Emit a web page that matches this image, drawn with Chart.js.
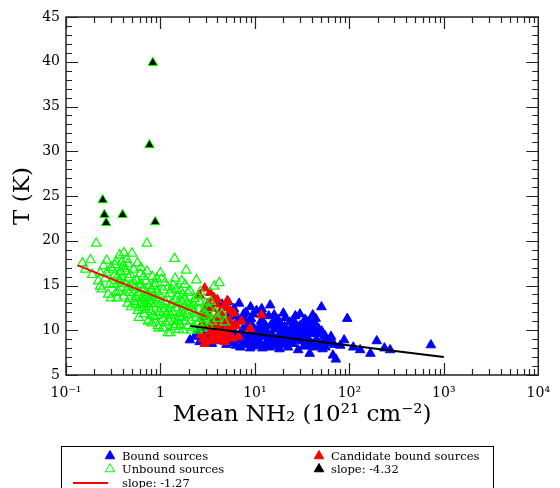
<!DOCTYPE html>
<html><head><meta charset="utf-8">
<script src="https://cdn.jsdelivr.net/npm/chart.js@4.4.0/dist/chart.umd.min.js"></script>
<style>html,body{margin:0;padding:0;background:#fff;}canvas{display:block;}</style>
</head><body>
<canvas id="c" width="560" height="488"></canvas>
<script>
// ---- data (x = mean NH2 in 1e21 cm^-2, y = T in K) ----
const unboundSources = [
 [0.149,17.5],[0.182,17.85],[0.16,16.8],[0.19,16.2],
 [0.209,19.7],[0.22,15.5],[0.23,16.4],[0.24,14.6],[0.25,17.2],[0.26,15.8],[0.27,16.4],[0.28,14.0],[0.29,15.1],[0.3,17.0],[0.3,13.6],
 [0.31,16.8],[0.32,15.2],[0.33,17.3],[0.34,17.7],[0.34,14.2],[0.35,13.6],[0.35,16.0],[0.36,15.5],[0.37,18.4],[0.38,16.5],[0.38,14.8],[0.39,15.8],[0.4,17.1],[0.41,18.65],[0.41,13.8],[0.42,15.2],[0.43,16.6],[0.44,14.5],[0.45,17.4],[0.45,13.0],[0.46,15.9],[0.47,14.2],[0.48,16.2],[0.49,12.6],[0.5,18.6],[0.5,15.0],[0.36,14.3],[0.33,16.2],[0.44,17.9],[0.47,13.5],
 [0.52,16.8],[0.53,13.2],[0.54,14.8],[0.55,13.75],[0.56,15.6],[0.57,17.5],[0.58,12.2],[0.59,11.4],[0.6,14.2],[0.61,16.3],[0.62,13.0],[0.63,15.1],[0.64,12.5],[0.65,14.6],[0.66,16.0],[0.67,11.8],[0.68,13.6],[0.7,15.5],[0.71,12.9],[0.72,19.7],[0.73,14.0],[0.74,11.0],[0.75,11.1],[0.76,15.0],[0.78,13.3],[0.79,12.1],[0.8,14.6],[0.81,10.8],[0.82,16.0],[0.84,12.6],[0.85,13.9],[0.87,11.5],[0.88,15.2],[0.9,12.9],[0.92,14.3],[0.94,10.5],[0.95,13.4],[0.96,10.2],[0.98,12.0],[1.0,16.4],[0.58,14.0],[0.63,13.5],[0.69,12.3],[0.77,13.8],[0.86,14.9],[0.93,11.6],
 [1.02,13.0],[1.05,11.3],[1.07,14.5],[1.1,12.4],[1.12,15.3],[1.15,10.8],[1.18,13.6],[1.2,9.7],[1.22,12.1],[1.25,14.1],[1.27,9.7],[1.3,11.6],[1.33,13.0],[1.36,15.0],[1.4,10.4],[1.41,18.0],[1.43,15.8],[1.45,12.5],[1.5,11.1],[1.52,13.8],[1.56,10.1],[1.6,12.0],[1.63,14.4],[1.67,11.4],[1.7,13.2],[1.74,10.0],[1.78,12.6],[1.82,15.1],[1.85,11.0],[1.87,16.7],[1.9,13.0],[1.95,10.5],[1.98,12.2],[1.08,12.0],[1.16,11.8],[1.28,12.8],[1.38,11.0],[1.48,14.6],[1.58,11.5],[1.72,14.0],[1.92,11.7],
 [2.05,14.4],[2.1,11.0],[2.15,12.7],[2.2,10.3],[2.3,13.5],[2.35,11.8],[2.4,15.6],[2.5,10.8],[2.55,12.3],[2.6,13.2],[2.7,11.3],[2.8,12.0],[2.9,10.5],[3.0,13.0],[3.1,11.6],[3.3,12.4],[3.5,11.0],[3.7,14.9],[3.8,12.0],[4.0,11.3],[4.2,15.3],[4.5,11.8],[4.8,10.9],[2.25,12.0],[2.45,10.0],[2.65,14.3],
 [0.42,16.9],[0.46,14.8],[0.52,15.4],[0.55,12.8],[0.6,15.0],[0.62,17.0],[0.66,13.0],[0.7,14.2],[0.72,16.6],[0.75,12.6],[0.8,13.0],[0.83,11.6],[0.88,13.6],[0.91,15.8],[0.97,14.0],[1.03,15.7],[1.06,10.3],[1.13,13.2],[1.2,14.8],[1.24,11.0],[1.32,14.5],[1.35,12.0],[1.42,13.4],[1.47,10.6],[1.55,13.0],[1.62,10.6],[1.68,15.5],[1.75,11.8],[1.8,13.6],[1.95,14.2],[2.02,12.8],[2.12,10.0],[2.2,13.0],[2.4,11.4],[2.5,13.8],[2.75,10.2],[2.95,11.8],[3.2,10.6],[3.4,13.2],[0.37,15.6],[0.39,17.6],[0.27,17.8],[0.23,14.9]
];
const unboundSlopeSources = [
 [0.83,39.9],[0.765,30.7],[0.245,24.55],[0.255,22.9],[0.266,22.0],[0.397,22.9],[0.88,22.1]
];
const boundSources = [
 [2.05,8.9],[2.3,9.3],[2.6,8.7],[2.9,9.8],[3.2,9.0],[3.5,8.5],[3.8,9.5],[4.1,8.8],[4.4,10.2],[4.7,9.1],[5.0,8.4],[5.3,11.5],[5.6,9.8],[5.9,8.6],[6.2,10.6],[6.5,9.2],[6.8,13.0],[7.0,8.1],[7.3,10.0],[7.6,11.8],[7.9,9.0],[8.2,8.4],[8.5,10.8],[8.8,9.5],[9.1,11.3],[9.4,8.2],[9.7,10.2],[10.0,9.0],[10.4,12.2],[10.8,8.6],[11.2,9.8],[11.6,11.0],[12.0,8.0],[12.5,9.3],[13.0,10.5],[13.5,8.7],[14.0,11.6],[14.5,12.8],[15.0,9.6],[15.6,8.3],[16.2,10.1],[16.8,9.0],[17.5,11.2],[18.2,7.9],[19.0,9.8],[19.8,8.6],[20.6,10.4],[21.5,9.2],[22.4,8.1],[23.3,10.9],[24.3,9.5],[25.3,8.5],[26.4,10.0],[27.5,9.1],[28.7,7.8],[30.0,10.5],[31.3,8.8],[32.7,9.6],[34.0,11.2],[35.0,10.4],[36.5,8.3],[38.0,7.4],[39.5,9.9],[41.0,11.7],[43.0,10.8],[45.0,9.0],[47.0,10.2],[50.6,12.6],[52.0,7.9],[55.0,9.4],[58.0,8.6],[62.0,8.9],[67.0,7.2],[72.0,6.75],[80.0,8.3],[88.0,8.9],[95.0,11.3],[110,8.1],[130,7.8],[167,7.4],[195,8.8],[235,8.0],[270,7.8],[730,8.35],
 [4.0,9.9],[4.6,10.9],[5.2,8.9],[5.5,10.4],[6.0,9.4],[6.3,8.3],[6.6,11.0],[7.1,9.6],[7.5,8.6],[8.0,10.4],[8.4,9.2],[8.9,8.0],[9.3,10.6],[9.8,9.4],[10.2,8.3],[10.6,10.0],[11.0,8.9],[11.5,9.6],[12.2,10.9],[12.8,8.4],[13.3,9.9],[14.2,8.9],[14.8,10.6],[15.4,9.2],[16.0,11.7],[16.5,8.7],[17.2,10.6],[18.0,9.4],[18.7,8.4],[19.4,10.3],[20.2,9.0],[21.0,11.4],[22.0,9.7],[23.0,8.6],[24.0,10.2],[25.0,11.0],[26.0,8.9],[27.0,10.7],[29.0,9.3],[31.0,10.0],[33.0,8.2],[35.5,9.3],[37.0,10.0],[40.0,8.5],[42.0,9.6],[44.0,8.1],[48.0,8.4],[53.0,8.8],
 [5.2,13.2],[3.3,12.5],[4.5,12.9],[6.0,12.4],[8.0,12.0],[12.0,11.9],[30.0,11.8],[38.0,11.0],[61.0,8.7],[69.0,8.4],
 [5.8,10.2],[6.9,8.9],[7.8,11.2],[8.6,8.6],[9.6,11.8],[10.5,9.5],[11.3,10.4],[12.6,9.9],[13.8,9.4],[14.4,8.1],[15.8,10.9],[17.0,8.2],[18.4,10.8],[19.9,9.5],[21.2,8.7],[23.6,9.9],[25.8,9.2],[28.0,10.2],[30.5,9.1],[32.0,10.7],[34.5,8.7],[37.5,9.6],[41.5,10.3],[46.0,9.6],[51.0,9.9],[56.0,8.1],[64.0,9.3],[3.6,10.6],[4.3,9.4],[3.0,9.5],[2.5,9.8],[6.4,11.6],[9.0,12.6],[11.8,12.4],[20.0,11.9],[26.8,11.6],[44.0,11.3],[36.0,10.9]
];
const candidateBoundSources = [
 [2.94,14.7],[2.6,13.9],[5.1,13.3],[11.7,11.7],[8.9,10.2],[2.94,8.5],[2.7,9.5],[2.8,10.8],[2.9,12.2],[3.0,9.0],[3.1,11.5],[3.2,13.0],[3.3,9.8],[3.4,10.6],[3.5,12.4],[3.6,8.8],[3.7,11.0],[3.8,9.4],[3.9,12.9],[4.0,10.2],[4.1,11.8],[4.2,8.9],[4.3,9.9],[4.4,12.0],[4.5,10.7],[4.6,9.3],[4.7,11.4],[4.8,8.7],[4.9,10.0],[5.0,12.6],[5.2,9.6],[5.4,11.1],[5.6,10.3],[5.8,9.1],[6.0,11.9],[6.3,10.5],[3.0,10.4],[3.2,11.9],[3.5,9.2],[3.7,13.6],[3.9,10.9],[4.1,9.6],[4.3,11.3],[4.6,12.5],[4.9,9.0],[2.75,11.6],[3.35,14.2],[4.0,13.4],[5.5,12.2],[6.7,9.3],[7.2,11.0],[2.85,9.0],[3.6,10.0],[4.4,9.4]
];
const unboundFit = [[0.133,17.25],[3.0,11.55]];
const boundFit = [[2.07,10.47],[1000,7.0]];

const xTickValues = [0.1, 1, 10, 100, 1000, 10000];
const xTickLabels = ['10\u207B\u00B9', '1', '10\u00B9', '10\u00B2', '10\u00B3', '10\u2074'];
const yTickValues = [5, 10, 15, 20, 25, 30, 35, 40, 45];
const legendLabels = ['Bound sources', 'Unbound sources', 'slope: -1.27', 'Candidate bound sources', 'slope: -4.32'];

const toXY = a => a.map(p => ({x: p[0], y: p[1]}));
const SERIF = '"DejaVu Serif", serif';
const R = 5.5;

const frameTicks = {
  id: 'frameTicks',
  afterDatasetsDraw(chart) {
    const {ctx, chartArea: a, scales: {x, y}} = chart;
    ctx.save();
    ctx.strokeStyle = '#222';
    ctx.lineWidth = 1.5;
    ctx.strokeRect(a.left, a.top, a.right - a.left, a.bottom - a.top);
    ctx.lineWidth = 1.2;
    ctx.beginPath();
    for (let d = -1; d <= 3; d++) {
      for (let k = 1; k <= 9; k++) {
        const v = k * Math.pow(10, d);
        const px = Math.round(x.getPixelForValue(v)) + 0.5;
        const L = k === 1 ? 12 : 6;
        ctx.moveTo(px, a.bottom); ctx.lineTo(px, a.bottom - L);
        ctx.moveTo(px, a.top); ctx.lineTo(px, a.top + L);
      }
    }
    for (let v = 5; v <= 45; v++) {
      const py = Math.round(y.getPixelForValue(v)) + 0.5;
      const L = v % 5 === 0 ? 12 : 6;
      ctx.moveTo(a.left, py); ctx.lineTo(a.left + L, py);
      ctx.moveTo(a.right, py); ctx.lineTo(a.right - L, py);
    }
    ctx.stroke();
    ctx.restore();
  }
};

const customLegend = {
  id: 'customLegend',
  afterDraw(chart) {
    const ctx = chart.ctx;
    ctx.save();
    ctx.strokeStyle = '#000';
    ctx.lineWidth = 1;
    ctx.strokeRect(61.5, 446.5, 432, 60);
    const tri = (x, y, fill, stroke) => {
      ctx.fillStyle = fill; ctx.strokeStyle = stroke; ctx.lineWidth = 1;
      Chart.helpers.drawPoint(ctx, {pointStyle: 'triangle', radius: R, borderWidth: 1, rotation: 0}, x, y);
    };
    tri(110, 456, '#0000ff', '#0000ff');
    tri(110, 469, 'rgba(0,0,0,0)', '#00ff00');
    tri(319, 456, '#ff0000', '#ff0000');
    tri(319, 469, '#000000', '#000000');
    ctx.strokeStyle = '#ff0000'; ctx.lineWidth = 2;
    ctx.beginPath(); ctx.moveTo(73, 483); ctx.lineTo(108, 483); ctx.stroke();
    ctx.fillStyle = '#000';
    ctx.font = '11.5px ' + SERIF;
    ctx.textBaseline = 'alphabetic';
    ctx.textAlign = 'left';
    ctx.fillText(legendLabels[0], 122, 460);
    ctx.fillText(legendLabels[1], 122, 473);
    ctx.fillText(legendLabels[2], 122, 487);
    ctx.fillText(legendLabels[3], 331, 460);
    ctx.fillText(legendLabels[4], 331, 473);
    ctx.restore();
  }
};

new Chart(document.getElementById('c'), {
  type: 'scatter',
  data: {
    datasets: [
      {label: 'slope: -1.27', data: toXY(unboundFit), showLine: true, borderColor: '#ff0000', borderWidth: 2, pointRadius: 0, order: 0},
      {label: 'slope: -4.32', data: toXY(boundFit), showLine: true, borderColor: '#000000', borderWidth: 2, pointRadius: 0, order: 0},
      {label: 'slope sources', data: toXY(unboundSlopeSources), pointStyle: 'triangle', pointRadius: R, backgroundColor: '#000000', borderColor: '#00ff00', borderWidth: 1, order: 1},
      {label: 'Unbound sources', data: toXY(unboundSources), pointStyle: 'triangle', pointRadius: R, backgroundColor: 'rgba(0,0,0,0)', borderColor: '#00ff00', borderWidth: 1.2, order: 2},
      {label: 'Candidate bound sources', data: toXY(candidateBoundSources), pointStyle: 'triangle', pointRadius: R, backgroundColor: '#ff0000', borderColor: '#ff0000', borderWidth: 1, order: 3},
      {label: 'Bound sources', data: toXY(boundSources), pointStyle: 'triangle', pointRadius: R, backgroundColor: '#0000ff', borderColor: '#0000ff', borderWidth: 1, order: 4}
    ]
  },
  options: {
    responsive: false,
    animation: false,
    devicePixelRatio: 1,
    layout: {padding: {left: 0, right: 15, top: 17, bottom: 59}},
    plugins: {legend: {display: false}, tooltip: {enabled: false}},
    elements: {point: {hoverRadius: R}},
    scales: {
      x: {
        type: 'logarithmic', min: 0.1, max: 10000,
        afterBuildTicks: s => { s.ticks = xTickValues.map(v => ({value: v})); },
        afterFit: s => { s.height = 54; },
        grid: {display: false, drawTicks: false},
        border: {display: false},
        ticks: {
          autoSkip: false, maxRotation: 0, padding: 10, color: '#000',
          font: {family: SERIF, size: 14},
          callback: (v, i) => xTickLabels[i]
        },
        title: {display: true, text: 'Mean NH\u2082 (10\u00B2\u00B9 cm\u207B\u00B2)', color: '#000', font: {family: SERIF, size: 23}, padding: 0}
      },
      y: {
        type: 'linear', min: 5, max: 45,
        afterBuildTicks: s => { s.ticks = yTickValues.map(v => ({value: v})); },
        afterFit: s => { s.width = 66; },
        grid: {display: false, drawTicks: false},
        border: {display: false},
        ticks: {padding: 6, color: '#000', font: {family: SERIF, size: 14}},
        title: {display: true, text: 'T (K)', color: '#000', font: {family: SERIF, size: 23}, padding: {top: 9, bottom: 0}}
      }
    }
  },
  plugins: [frameTicks, customLegend]
});
</script>
</body></html>
